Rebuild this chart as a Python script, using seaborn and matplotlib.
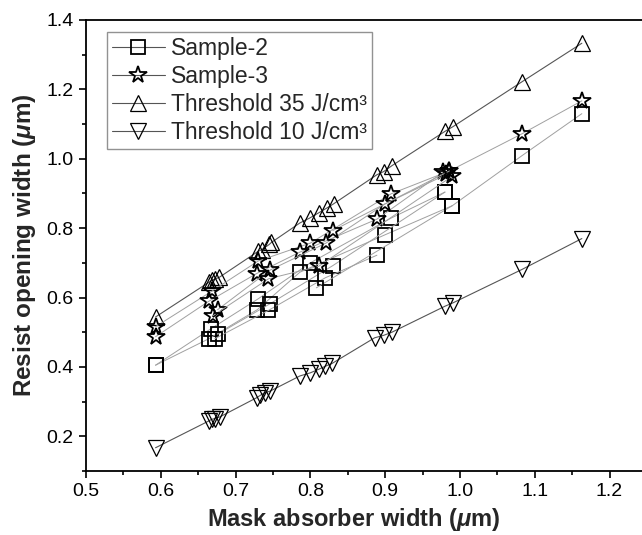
import matplotlib
matplotlib.use("Agg")
import matplotlib.pyplot as plt
from matplotlib.lines import Line2D
from matplotlib.ticker import MultipleLocator
import seaborn as sns
import pandas as pd

# ---- data ----
t35_x = [0.593, 0.665, 0.669, 0.673, 0.678, 0.730, 0.735, 0.745, 0.748, 0.786, 0.799,
         0.811, 0.822, 0.831, 0.889, 0.898, 0.909, 0.980, 0.991, 1.083, 1.163]
t35_y = [0.544, 0.645, 0.650, 0.654, 0.658, 0.733, 0.738, 0.753, 0.759, 0.815, 0.829,
         0.844, 0.858, 0.870, 0.954, 0.963, 0.980, 1.079, 1.093, 1.222, 1.333]

t10_x = [0.593, 0.664, 0.668, 0.672, 0.679, 0.728, 0.733, 0.739, 0.746, 0.786, 0.800,
         0.811, 0.820, 0.829, 0.886, 0.898, 0.909, 0.980, 0.991, 1.083, 1.163]
t10_y = [0.167, 0.244, 0.249, 0.251, 0.256, 0.311, 0.318, 0.326, 0.330, 0.374, 0.383,
         0.393, 0.402, 0.410, 0.484, 0.491, 0.500, 0.575, 0.585, 0.681, 0.770]

s2_run = ["a", "a", "a", "a", "a", "a",
          "b", "b", "b", "b", "b", "b", "b", "b",
          "c", "c", "c", "c",
          "d", "d", "d", "d",
          "e", "e"]
s2_x = [0.593, 0.667, 0.730, 0.800, 0.908, 0.980,
        0.593, 0.664, 0.729, 0.786, 0.900, 0.990, 1.083, 1.163,
        0.676, 0.746, 0.830, 0.980,
        0.672, 0.744, 0.820, 0.889,
        0.808, 0.990]
s2_y = [0.405, 0.510, 0.596, 0.700, 0.829, 0.904,
        0.405, 0.481, 0.565, 0.673, 0.781, 0.865, 1.009, 1.130,
        0.494, 0.582, 0.692, 0.904,
        0.481, 0.563, 0.657, 0.722,
        0.628, 0.865]

s3_run = ["a", "a", "a", "a", "a", "a", "a", "a",
          "b", "b", "b", "b", "b", "b",
          "c", "c", "c", "c", "c",
          "d", "d", "d", "d",
          "e", "e"]
s3_x = [0.593, 0.668, 0.730, 0.800, 0.908, 0.986, 1.083, 1.163,
        0.593, 0.664, 0.728, 0.786, 0.889, 0.978,
        0.676, 0.746, 0.821, 0.900, 0.982,
        0.670, 0.744, 0.811, 0.990,
        0.830, 0.986]
s3_y = [0.516, 0.618, 0.705, 0.757, 0.899, 0.965, 1.072, 1.167,
        0.487, 0.589, 0.669, 0.731, 0.826, 0.962,
        0.565, 0.679, 0.757, 0.870, 0.955,
        0.548, 0.654, 0.690, 0.950,
        0.793, 0.965]

labels = ["Sample-2", "Sample-3", "Threshold 35 J/cm³", "Threshold 10 J/cm³"]
x_ticks = [0.5, 0.6, 0.7, 0.8, 0.9, 1.0, 1.1, 1.2]
y_ticks = [0.2, 0.4, 0.6, 0.8, 1.0, 1.2, 1.4]

# ---- style ----
sns.set_style("ticks")
plt.rcParams["font.family"] = ["Liberation Sans", "DejaVu Sans"]
plt.rcParams["mathtext.fontset"] = "custom"
plt.rcParams["mathtext.it"] = "Liberation Sans:italic:bold"
plt.rcParams["mathtext.rm"] = "Liberation Sans:bold"

fig = plt.figure(figsize=(6.42, 5.35), dpi=100)
ax = fig.add_axes([86 / 642, 64 / 535, 560.9 / 642, 451 / 535])

df2 = pd.DataFrame({"x": s2_x, "y": s2_y, "run": s2_run})
df3 = pd.DataFrame({"x": s3_x, "y": s3_y, "run": s3_run})
dt35 = pd.DataFrame({"x": t35_x, "y": t35_y, "run": "t"})
dt10 = pd.DataFrame({"x": t10_x, "y": t10_y, "run": "t"})

common = dict(x="x", y="y", units="run", estimator=None, legend=False, ax=ax,
              markerfacecolor="none", markeredgecolor="black")

sns.lineplot(data=dt35, color="#555555", lw=0.8, marker="^", markersize=12,
             markeredgewidth=0.9, **common)
sns.lineplot(data=dt10, color="#555555", lw=0.8, marker="v", markersize=12,
             markeredgewidth=0.9, **common)
sns.lineplot(data=df2, color="#a0a0a0", lw=0.7, marker="s", markersize=9.5,
             markeredgewidth=1.3, **common)
sns.lineplot(data=df3, color="#a0a0a0", lw=0.7, marker="*", markersize=13,
             markeredgewidth=1.3, **common)

ax.set_xlim(0.5, 1.25)
ax.set_ylim(0.1, 1.4)
ax.xaxis.set_minor_locator(MultipleLocator(0.05))
ax.yaxis.set_minor_locator(MultipleLocator(0.1))
ax.set_xticks(x_ticks)
ax.set_xticklabels([f"{v:.1f}" for v in x_ticks])
ax.set_yticks(y_ticks)
ax.set_yticklabels([f"{v:.1f}" for v in y_ticks])
ax.tick_params(which="major", direction="out", length=5, width=1.2, labelsize=14,
               color="black", labelcolor="black", pad=4)
ax.tick_params(which="minor", direction="out", length=3, width=1.2, color="black")
for sp in ax.spines.values():
    sp.set_linewidth(1.3)
    sp.set_color("black")

ax.set_xlabel(r"Mask absorber width ($\mathit{\mu}$m)", fontsize=17,
              fontweight="bold")
ax.xaxis.set_label_coords(0.477, -0.078)
ax.set_ylabel(r"Resist opening width ($\mathit{\mu}$m)", fontsize=17.5,
              fontweight="bold", labelpad=6)

handles = [
    Line2D([], [], color="#555555", lw=0.8, marker="s", markersize=9.5,
           markerfacecolor="none", markeredgecolor="black", markeredgewidth=1.3),
    Line2D([], [], color="#555555", lw=0.8, marker="*", markersize=13,
           markerfacecolor="none", markeredgecolor="black", markeredgewidth=1.3),
    Line2D([], [], color="#555555", lw=0.8, marker="^", markersize=12,
           markerfacecolor="none", markeredgecolor="black", markeredgewidth=0.9),
    Line2D([], [], color="#555555", lw=0.8, marker="v", markersize=12,
           markerfacecolor="none", markeredgecolor="black", markeredgewidth=0.9),
]
leg = ax.legend(handles, labels, loc="upper left", bbox_to_anchor=(0.037, 0.974),
                borderaxespad=0, fontsize=16.5, frameon=True, fancybox=False,
                edgecolor="#777777", handlelength=2.3, handletextpad=0.3,
                labelspacing=0.22, borderpad=0.22)
leg.get_frame().set_linewidth(1.0)

fig.savefig("out.png", dpi=100)
